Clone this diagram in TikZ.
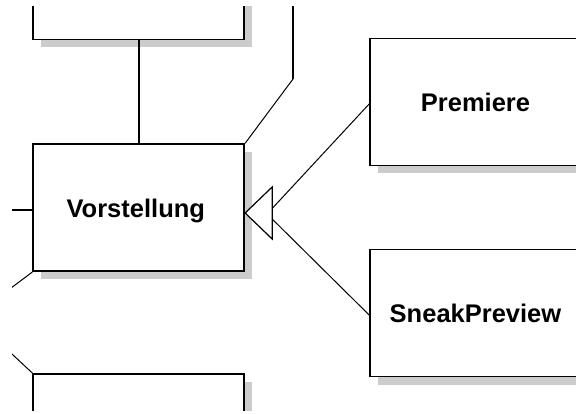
\documentclass[tikz,border=0pt]{standalone}
\usepackage{fontspec}
\setmainfont{Liberation Sans}
\usetikzlibrary{calc,shadows}
\tikzset{
  entity/.style={draw, line width=1.7pt, fill=white, minimum width=211pt, minimum height=127pt,
    inner sep=0pt, text height=20pt, text depth=0pt, font=\fontsize{25.5}{30}\selectfont\bfseries,
    general shadow={fill=black!20, shadow xshift=8pt, shadow yshift=-8pt}},
  thick link/.style={line width=1.5pt},
  thin link/.style={line width=1pt},
  inherit/.style={line width=1.2pt, fill=white, line join=miter}
}
\begin{document}
\begin{tikzpicture}[x=1pt,y=-1pt]
\useasboundingbox (0,0) rectangle (576,414);
\clip (12,7) rectangle (576,410);
\node[entity] (top) at (138.8,-24) {};
\node[entity] (vor) at (138.8,207.6) {\hspace*{-6pt}Vorstellung};
\node[entity] (bot) at (138.8,437.5) {};
\node[entity] (prem) at (475.5,102) {Premiere};
\node[entity] (sneak) at (475.5,313) {SneakPreview};
% association lines
\draw[thick link] (top.south) -- (vor.north);
\coordinate (t1) at (293,0);
\coordinate (t2) at (293,79);
\draw[thick link] (t1) -- (t2);
\draw[thin link] (t2) -- (vor.north east);
\coordinate (l1) at (0,210);
\draw[thick link] (l1) -- (l1 -| vor.west);
\coordinate (l2) at (5,292.5);
\draw[thin link] (vor.south west) -- (l2);
\coordinate (l3) at (5,347.5);
\draw[thin link] (l3) -- (bot.north west);
% inheritance
\coordinate (ap) at ($(vor.east)+(0,5.4)$);
\coordinate (bt) at ($(ap)+(27,-26)$);
\coordinate (bb) at ($(ap)+(27,26)$);
\coordinate (p1) at ($(ap)+(27,-4.5)$);
\coordinate (p2) at ($(ap)+(27,6)$);
\draw[thin link] ($(prem.west)+(0,2)$) -- (p1);
\draw[thin link] (p2) -- ($(sneak.west)+(0,2)$);
\draw[inherit] (ap) -- (bt) -- (bb) -- cycle;
\end{tikzpicture}
\end{document}
